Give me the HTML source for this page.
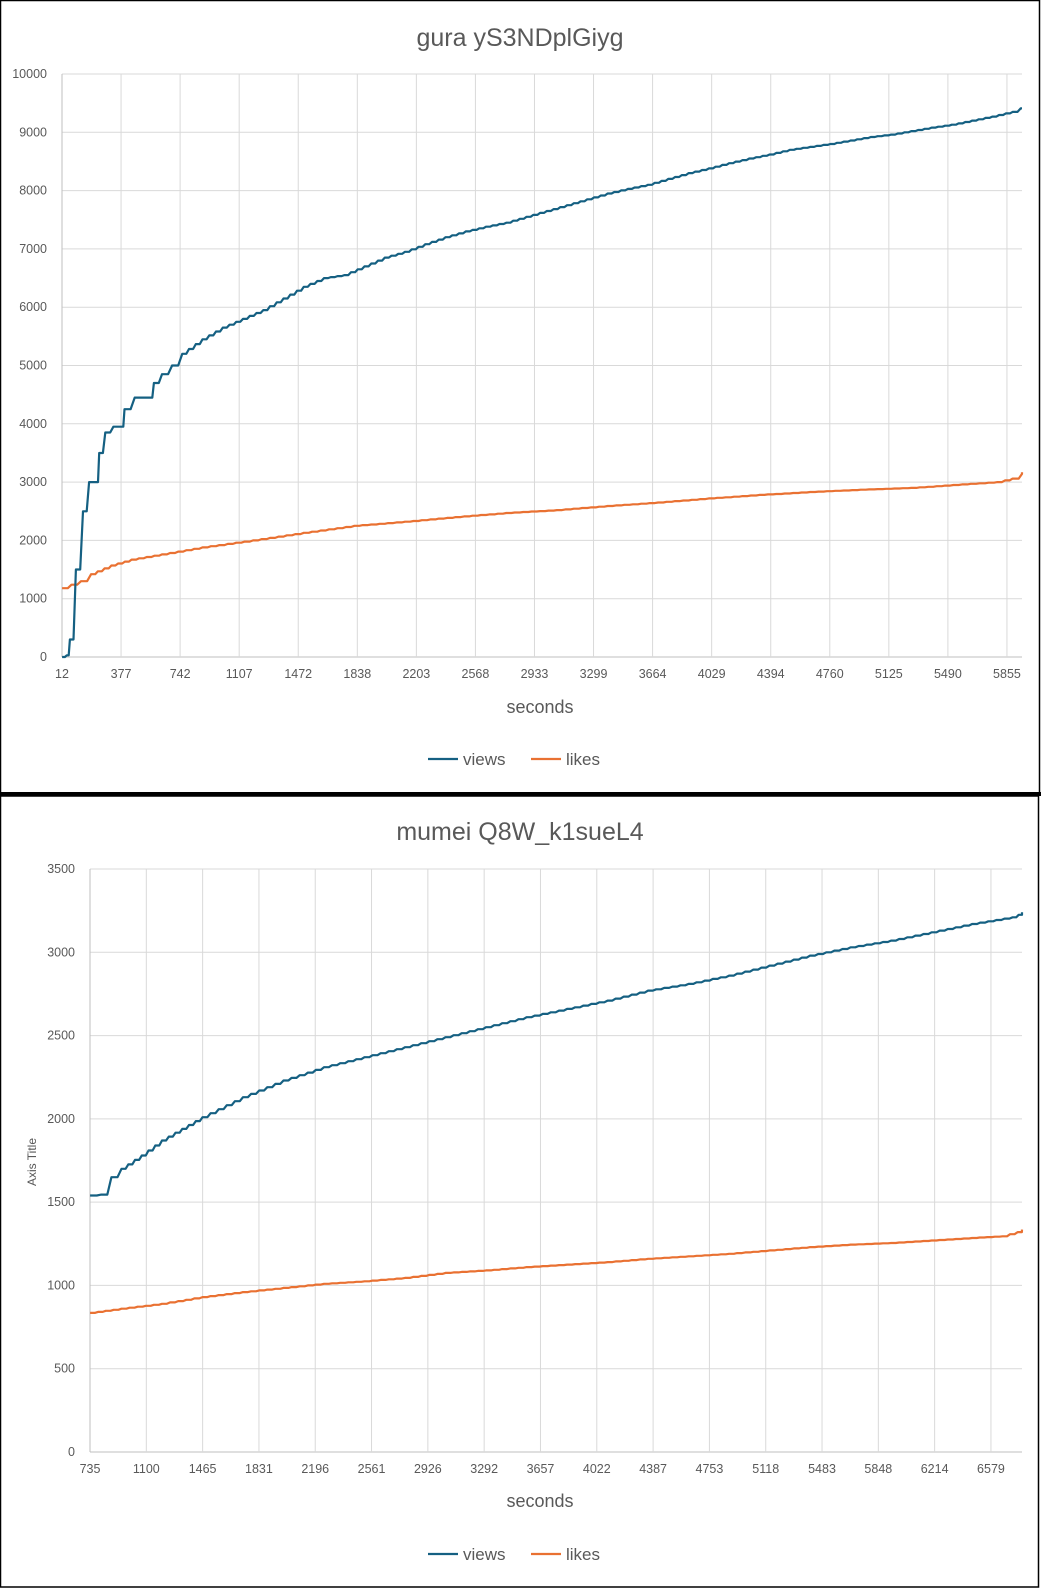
<!DOCTYPE html><html><head><meta charset="utf-8"><style>
body{margin:0;background:#fff;}
svg{display:block;font-family:"Liberation Sans",Arial,sans-serif;}
</style></head><body>
<svg id="s" width="1041" height="1588" xmlns="http://www.w3.org/2000/svg"></svg>
<script>
const s=document.getElementById('s');let h='';
h+='<rect x="0" y="0" width="1041" height="1588" fill="#fff"/>';
h+='<rect x="0.5" y="0.5" width="1039" height="793" fill="none" stroke="#000" stroke-width="1.5"/>';
h+='<rect x="0" y="792" width="1041" height="4" fill="#000"/>';
h+='<rect x="0.5" y="796" width="1038" height="791" fill="none" stroke="#000" stroke-width="1.5"/>';
const K=1.0126;
function chart(o){
 const {x0,x1,y0,ytop,ymax,ystep,xs,nl}=o;
 const ys=(y0-ytop)/ymax;
 for(let v=0;v<=ymax;v+=ystep){const y=y0-v*ys;
  h+=`<line x1="${x0}" x2="${x1}" y1="${y}" y2="${y}" stroke="${v==0?'#bfbfbf':'#d9d9d9'}" stroke-width="1"/>`;
  h+=`<text x="${o.ylx}" y="${y+4}" font-size="12.5" fill="#595959" text-anchor="end">${v}</text>`;}
 for(let i=0;i<nl;i++){const x=x0+i*xs;
  h+=`<line x1="${x}" x2="${x}" y1="${ytop}" y2="${y0}" stroke="${i==0?'#bfbfbf':'#d9d9d9'}"/>`;
  h+=`<text x="${x}" y="${y0+21}" font-size="12.5" fill="#595959" text-anchor="middle">${o.labs[i]}</text>`;}
 function line(pts,col){
  let d='';const P=pts.map(p=>[p[0]*K,y0-p[1]*ys]);
  for(let i=0;i<P.length;i++){let [x,y]=P[i];if(x>x1)x=x1;d+=(i?'L':'M')+x.toFixed(1)+','+y.toFixed(1);}
  h+=`<path d="${d}" fill="none" stroke="${col}" stroke-width="2.2" stroke-linejoin="round"/>`;}
 function stair(pts,st){const out=[];for(let i=0;i<pts.length-1;i++){const [xa,va]=pts[i],[xb,vb]=pts[i+1];const n=Math.max(1,Math.round((xb-xa)/st));for(let j=0;j<n;j++){const xx=xa+(xb-xa)*j/n, xn=xa+(xb-xa)*(j+0.6)/n;const vv=va+(vb-va)*j/n;out.push([xx,vv]);out.push([xn,vv]);}}out.push(pts[pts.length-1]);return out;}
 line(stair(o.likes,8),'#e97132');
 line(stair(o.views,8),'#156082');
}
chart({x0:62,x1:1022,y0:657,ytop:74,ymax:10000,ystep:1000,xs:59.06,nl:17,ylx:47,labs:[12,377,742,1107,1472,1838,2203,2568,2933,3299,3664,4029,4394,4760,5125,5490,5855],
views:[[61.3,0],[66,30],[69,300],[75,1500],[82,2500],[88,3000],[95,3000],[98,3500],[104,3850],[112,3950],[120,3950],[123,4250],[133,4450],[148,4450],[152,4700],[160,4850],[170,5000],[180,5200],[200,5450],[220,5650],[240,5800],[260,5950],[280,6150],[300,6350],[320,6500],[340,6550],[360,6700],[380,6850],[400,6950],[420,7080],[440,7200],[460,7300],[480,7380],[500,7450],[520,7550],[540,7650],[560,7750],[580,7850],[600,7950],[620,8030],[640,8100],[660,8200],[680,8300],[700,8380],[720,8470],[740,8550],[760,8620],[780,8700],[800,8750],[820,8800],[840,8860],[860,8920],[880,8960],[900,9020],[920,9080],[940,9130],[960,9200],[980,9270],[1000,9350],[1008,9410],[1012,9410]],
likes:[[61.3,1180],[80,1300],[90,1420],[110,1570],[130,1670],[160,1760],[200,1880],[250,2000],[300,2130],[350,2250],[400,2320],[450,2400],[500,2470],[550,2520],[600,2590],[650,2650],[700,2720],[750,2780],[800,2830],[850,2870],[900,2900],[950,2960],[985,3000],[1000,3060],[1010,3140],[1012,3170]]});
chart({x0:90,x1:1022,y0:1452,ytop:869,ymax:3500,ystep:500,xs:56.31,nl:17,ylx:75,labs:[735,1100,1465,1831,2196,2561,2926,3292,3657,4022,4387,4753,5118,5483,5848,6214,6579],
views:[[89,1540],[100,1545],[110,1650],[120,1700],[140,1780],[160,1870],[180,1940],[200,2010],[240,2130],[280,2230],[320,2310],[360,2370],[400,2430],[440,2490],[480,2550],[520,2610],[560,2660],[600,2710],[640,2770],[680,2810],[720,2860],[760,2920],[800,2980],[840,3030],[880,3070],[920,3120],[960,3170],[1000,3210],[1012,3240]],
likes:[[89,835],[120,860],[160,890],[200,930],[240,960],[280,985],[320,1010],[360,1025],[400,1045],[440,1075],[480,1090],[520,1110],[560,1125],[600,1140],[640,1160],[680,1175],[720,1190],[760,1210],[800,1230],[840,1245],[880,1255],[920,1270],[960,1285],[990,1295],[1005,1320],[1012,1335]]});
h+='<text x="520" y="46" font-size="25" fill="#595959" text-anchor="middle">gura yS3NDplGiyg</text>';
h+='<text x="540" y="713" font-size="18" fill="#595959" text-anchor="middle">seconds</text>';
h+='<text x="520" y="840" font-size="25" fill="#595959" text-anchor="middle">mumei Q8W_k1sueL4</text>';
h+='<text x="540" y="1507" font-size="18" fill="#595959" text-anchor="middle">seconds</text>';
h+='<text transform="translate(36,1162) rotate(-90)" font-size="12" fill="#595959" text-anchor="middle">Axis Title</text>';
function legend(y){
 h+=`<line x1="428" x2="458" y1="${y}" y2="${y}" stroke="#156082" stroke-width="2.2"/><text x="463" y="${y+6}" font-size="17" fill="#595959">views</text>`;
 h+=`<line x1="531" x2="561" y1="${y}" y2="${y}" stroke="#e97132" stroke-width="2.2"/><text x="566" y="${y+6}" font-size="17" fill="#595959">likes</text>`;}
legend(759);legend(1554);
s.innerHTML=h;
</script>
</body></html>
